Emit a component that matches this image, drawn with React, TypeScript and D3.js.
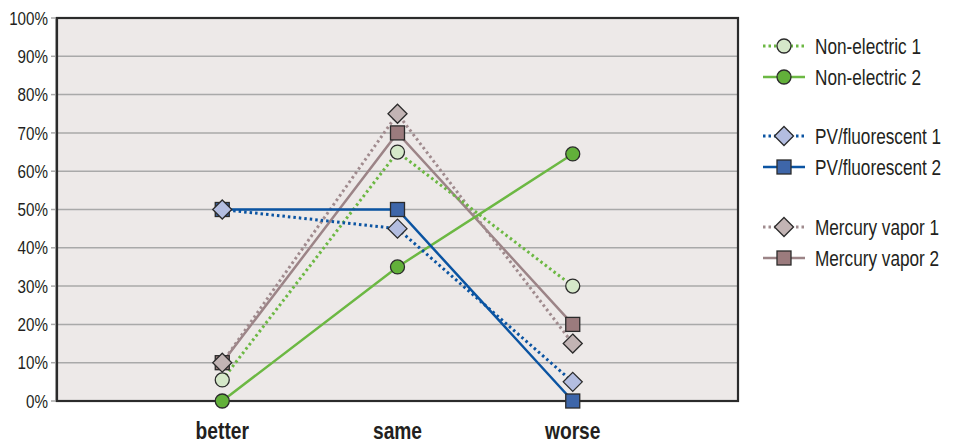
import React from "react";
import * as d3 from "d3";

const categories = ["better", "same", "worse"];
const yTicks = [0, 10, 20, 30, 40, 50, 60, 70, 80, 90, 100];

const nonElectric1 = [5.5, 65, 30];
const nonElectric2 = [0, 35, 64.5];
const pvFluorescent1 = [50, 45, 5];
const pvFluorescent2 = [50, 50, 0];
const mercuryVapor1 = [10, 75, 15];
const mercuryVapor2 = [10, 70, 20];

type Shape = "circle" | "diamond" | "square";
interface Series {
  name: string;
  values: number[];
  stroke: string;
  fill: string;
  dotted: boolean;
  shape: Shape;
}

const series: Series[] = [
  { name: "Non-electric 1", values: nonElectric1, stroke: "#6cb843", fill: "#d5e8c9", dotted: true, shape: "circle" },
  { name: "Non-electric 2", values: nonElectric2, stroke: "#6cb843", fill: "#62b03a", dotted: false, shape: "circle" },
  { name: "PV/fluorescent 1", values: pvFluorescent1, stroke: "#0b54a2", fill: "#b3bde0", dotted: true, shape: "diamond" },
  { name: "PV/fluorescent 2", values: pvFluorescent2, stroke: "#0b54a2", fill: "#3e66a9", dotted: false, shape: "square" },
  { name: "Mercury vapor 1", values: mercuryVapor1, stroke: "#a08b8e", fill: "#c2b4b4", dotted: true, shape: "diamond" },
  { name: "Mercury vapor 2", values: mercuryVapor2, stroke: "#9c8487", fill: "#9b7b7d", dotted: false, shape: "square" },
];

// lines drawn back to front, markers on top
const drawOrder = [5, 4, 1, 0, 3, 2];

const FONT = "'Liberation Sans', Arial, Helvetica, sans-serif";
const NARROW = 0.8; // horizontal squeeze for a condensed look

const left = 57;
const right = 738;
const top = 18;
const bottom = 401;

const x = d3.scalePoint<string>().domain(categories).range([left, right]).padding(0.943);
const y = d3.scaleLinear().domain([0, 100]).range([bottom, top]);

function CText({
  x: tx,
  y: ty,
  size,
  anchor = "start",
  bold = false,
  children,
}: {
  x: number;
  y: number;
  size: number;
  anchor?: "start" | "middle" | "end";
  bold?: boolean;
  children: React.ReactNode;
}) {
  return (
    <g transform={`translate(${tx},${ty}) scale(${NARROW},1)`}>
      <text
        x={0}
        y={0}
        dy="0.35em"
        textAnchor={anchor}
        fontFamily={FONT}
        fontSize={size}
        fontWeight={bold ? "bold" : "normal"}
        fill="#231f20"
      >
        {children}
      </text>
    </g>
  );
}

function Marker({ shape, cx, cy, fill }: { shape: Shape; cx: number; cy: number; fill: string }) {
  const stroke = "#2b2b2b";
  if (shape === "circle") {
    return <circle cx={cx} cy={cy} r={7} fill={fill} stroke={stroke} strokeWidth={1.3} />;
  }
  if (shape === "square") {
    return <rect x={cx - 7} y={cy - 7} width={14} height={14} fill={fill} stroke={stroke} strokeWidth={1.3} />;
  }
  const r = 9.5;
  return (
    <path
      d={`M${cx},${cy - r}L${cx + r},${cy}L${cx},${cy + r}L${cx - r},${cy}Z`}
      fill={fill}
      stroke={stroke}
      strokeWidth={1.3}
    />
  );
}

export default function App() {
  const line = d3
    .line<number>()
    .x((_, i) => x(categories[i]) as number)
    .y((v) => y(v));

  const legendRows = [46, 77, 136, 167, 227, 258];

  return (
    <svg width={963} height={444} style={{ position: "absolute", left: 0, top: 0 }}>
      <rect x={0} y={0} width={963} height={444} fill="#ffffff" />
      <rect x={left} y={top} width={right - left} height={bottom - top} fill="#ede9e8" />
      {yTicks.map((t) => (
        <g key={t}>
          <line x1={left} x2={right} y1={y(t)} y2={y(t)} stroke="#a9a9a9" strokeWidth={1.5} />
          <line x1={51} x2={left} y1={y(t)} y2={y(t)} stroke="#a9a9a9" strokeWidth={1.5} />
          <CText x={48} y={y(t)} size={19} anchor="end">
            {t}%
          </CText>
        </g>
      ))}
      <line x1={55.5} x2={55.5} y1={top - 1} y2={bottom + 1} stroke="#a9a9a9" strokeWidth={1} />
      <rect
        x={left}
        y={top}
        width={right - left}
        height={bottom - top}
        fill="none"
        stroke="#2b2b2b"
        strokeWidth={2.2}
      />
      {drawOrder.map((i) => {
        const s = series[i];
        return (
          <path
            key={s.name}
            d={line(s.values) || ""}
            fill="none"
            stroke={s.stroke}
            strokeWidth={s.dotted ? 3 : 2.5}
            strokeDasharray={s.dotted ? "2.5 3" : undefined}
          />
        );
      })}
      {drawOrder.map((i) => {
        const s = series[i];
        return (
          <g key={s.name + "-m"}>
            {s.values.map((v, j) => (
              <Marker key={j} shape={s.shape} cx={x(categories[j]) as number} cy={y(v)} fill={s.fill} />
            ))}
          </g>
        );
      })}
      {categories.map((c) => (
        <CText key={c} x={x(c) as number} y={430.5} size={24} anchor="middle" bold>
          {c}
        </CText>
      ))}
      {series.map((s, i) => {
        const cy = legendRows[i];
        return (
          <g key={s.name + "-l"}>
            <line
              x1={763}
              x2={805}
              y1={cy}
              y2={cy}
              stroke={s.stroke}
              strokeWidth={s.dotted ? 3 : 2.5}
              strokeDasharray={s.dotted ? "2.5 3" : undefined}
            />
            <Marker shape={s.shape} cx={784} cy={cy} fill={s.fill} />
            <CText x={815} y={cy} size={21.5}>
              {s.name}
            </CText>
          </g>
        );
      })}
    </svg>
  );
}
